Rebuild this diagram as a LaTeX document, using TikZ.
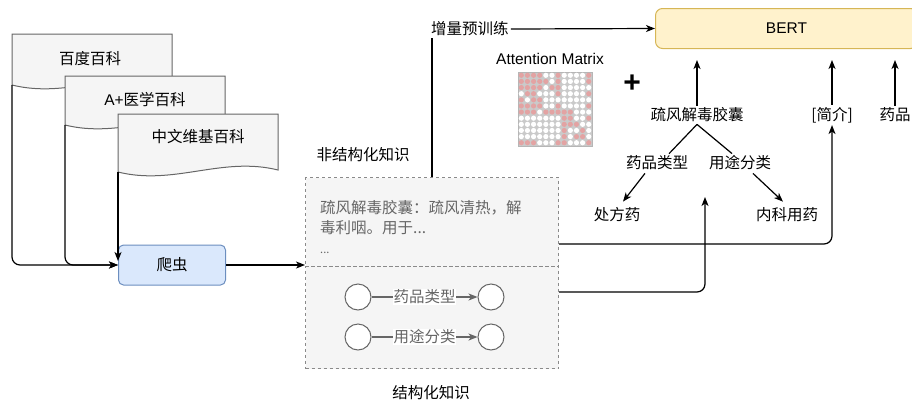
\documentclass[tikz,border=0pt]{standalone}
\usepackage{fontspec}
\setmainfont{Liberation Sans}
\newfontfamily\cjk{Noto Sans CJK SC}
\usetikzlibrary{arrows.meta,calc}
\definecolor{docfill}{HTML}{F5F5F5}
\definecolor{docline}{HTML}{666666}
\definecolor{crawlfill}{HTML}{DAE8FC}
\definecolor{crawlline}{HTML}{6C8EBF}
\definecolor{bertfill}{HTML}{FFF2CC}
\definecolor{bertline}{HTML}{D6B656}
\definecolor{boxline}{HTML}{8A8A8A}
\definecolor{graytext}{HTML}{666666}
\definecolor{dotpink}{HTML}{E3A3A3}
\definecolor{matbg}{HTML}{CACACA}
\newcommand\fs{\fontsize{15.5}{20}\selectfont}
\begin{document}
\begin{tikzpicture}[x=1pt,y=-1pt,
  every node/.style={font=\cjk\fs, inner sep=2pt},
  conn/.style={line width=1.2pt, draw=black},
  arr/.style={conn, -{Stealth[length=9pt,width=7pt,inset=2.5pt]}},
  docshape/.style={fill=docfill, draw=docline, line width=1pt},
  crawlbox/.style={fill=crawlfill, draw=crawlline, line width=1pt, rounded corners=5pt, minimum width=107pt, minimum height=40pt},
  bertbox/.style={fill=bertfill, draw=bertline, line width=1pt, rounded corners=7pt, minimum width=262pt, minimum height=40pt, anchor=north west},
  dbox/.style={fill=docfill, draw=boxline, line width=1pt, dash pattern=on 3pt off 3pt, anchor=north west, minimum width=253pt},
  circ/.style={circle, draw=docline, fill=white, line width=1pt, minimum size=26pt, inner sep=0pt},
  garr/.style={line width=1.2pt, draw=docline, -{Stealth[length=9pt,width=7pt,inset=2.5pt]}},
  elbl/.style={fill=white, text=graytext, inner sep=0.5pt}
]
\useasboundingbox (0,0) rectangle (912,402);

% documents
\filldraw[docshape] (12,34) -- (172,34) -- (172,83) .. controls (116,69) and (68,99) .. (12,85) -- cycle;
\node (doc1) at (90,59) {百度百科};
\coordinate (d1b) at (12,85);
\filldraw[docshape] (65,76) -- (225,76) -- (225,123) .. controls (169,109) and (121,139) .. (65,125) -- cycle;
\node (doc2) at (145,100) {{\rmfamily A+}医学百科};
\coordinate (d2b) at (65,125);
\filldraw[docshape] (118,114) -- (278,114) -- (278,170) .. controls (222,156) and (174,186) .. (118,172) -- cycle;
\node (doc3) at (198,137) {中文维基百科};
\coordinate (d3b) at (118,172);

% crawler
\node[crawlbox] (crawl) at (172,265) {爬虫};
\draw[arr, rounded corners=8pt] (d1b) |- (crawl.west);
\draw[arr, rounded corners=8pt] (d2b) |- (crawl.west);
\draw[arr] (d3b) -- ($(crawl.west)+(0,-4)$);

% knowledge box
\node[dbox, minimum height=89pt] (unstr) at (305,177) {};
\node[dbox, minimum height=102pt] (str) at (305,266) {};
\draw[arr] (crawl.east) -- (crawl.east -| unstr.west);
\node[anchor=north west, align=left, text=graytext] (utext) at (318,198)
  {疏风解毒胶囊：疏风清热，解\\毒利咽。用于...\\{\fontsize{11}{20}\selectfont ...}};

\node[circ] (c1a) at (358,297) {};
\node[circ] (c1b) at (491,297) {};
\node[circ] (c2a) at (358,337) {};
\node[circ] (c2b) at (491,337) {};
\draw[garr] (c1a) -- node[elbl] {药品类型} (c1b);
\draw[garr] (c2a) -- node[elbl] {用途分类} (c2b);

\node (unstrlbl) at (363,155) {非结构化知识};
\node (strlbl) at (431,393) {结构化知识};

% BERT
\node[bertbox] (bert) at (655,8) {{\rmfamily BERT}};
\node[anchor=west] (inc) at (429,29) {增量预训练};
\coordinate (incv) at ($(inc.south west)+(3,0)$);
\draw[conn] (incv |- unstr.north) -- (incv);
\draw[arr] (inc.east) -- (bert.west);

% attention matrix
\node (am) at (550,59) {\rmfamily Attention Matrix};
\node[fill=matbg, draw=matbg!90!black, line width=0.5pt, minimum size=74pt, inner sep=0pt, anchor=north west] (mat) at (518,72) {};
\foreach \row [count=\r] in {
  {1,1,1,1,0,0,1,0,0,0,0,1},
  {1,1,1,1,1,0,1,0,0,0,0,1},
  {1,1,1,1,0,1,1,0,0,0,0,0},
  {0,1,1,0,0,0,1,0,0,0,0,1},
  {1,0,1,1,0,0,0,0,0,0,0,0},
  {1,1,1,1,0,0,1,0,0,0,0,1},
  {1,1,1,0,1,1,1,1,1,0,0,0},
  {0,0,0,0,0,0,0,1,1,0,0,1},
  {0,0,0,0,0,0,0,1,1,1,0,0},
  {0,0,0,0,0,0,0,1,0,0,1,0},
  {0,0,0,0,0,0,0,1,0,1,1,0},
  {1,1,1,0,0,0,1,1,0,0,0,1}} {
  \foreach \v [count=\c] in \row {
    \ifnum\v=1 \def\dc{dotpink}\else\def\dc{white}\fi
    \fill[\dc] ({518+3.3+(\c-1)*6.13},{72+3.3+(\r-1)*6.13}) circle (2.6pt);
  }
}
\node (plus) at (632,84) {\fontsize{30}{30}\selectfont\bfseries\rmfamily +};

% tree
\node (sf) at (697,115) {疏风解毒胶囊};
\node (ypt) at (657,163) {药品类型};
\node (ytf) at (740,163) {用途分类};
\node (cfy) at (617,215) {处方药};
\node (nky) at (787,215) {内科用药};
\node (jj) at (832,115) {[简介]};
\node (yp) at (895,115) {药品};
\draw[conn] (sf.south) -- ($(ypt.north)+(12,0)$);
\draw[conn] (sf.south) -- ($(ytf.north)+(-8,0)$);
\draw[arr] ($(ypt.south)+(-12,1)$) -- ($(cfy.north)+(6,-4)$);
\draw[arr] ($(ytf.south)+(13,1)$) -- ($(nky.north)+(-4,-4)$);
\draw[arr, shorten >=11pt] (sf.north) -- (sf.north |- bert.south);
\draw[arr, shorten >=11pt] (jj.north) -- (jj.north |- bert.south);
\draw[arr, shorten >=11pt] (yp.north) -- (yp.north |- bert.south);

% from knowledge box to right
\coordinate (tp) at (705,197);
\draw[arr, rounded corners=8pt] ($(unstr.north east)+(0,67)$) -| (jj.south);
\draw[arr, rounded corners=8pt] ($(str.north east)+(0,26)$) -| (tp);
\end{tikzpicture}
\end{document}
